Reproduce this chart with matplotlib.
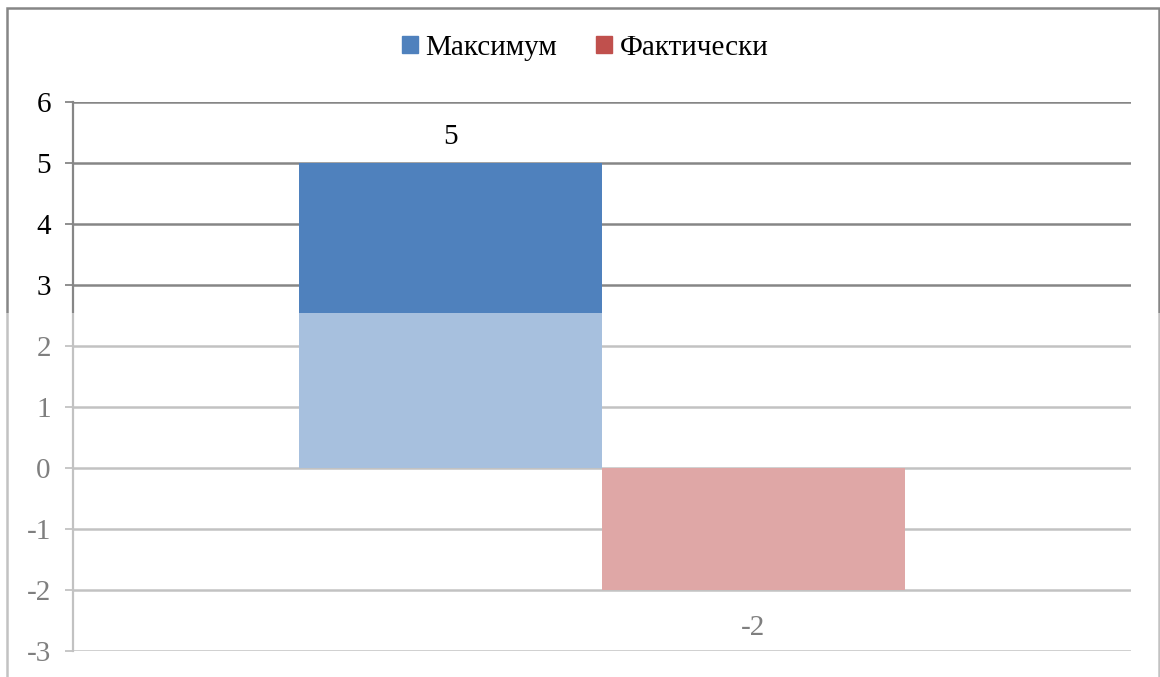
import matplotlib
matplotlib.use("Agg")
import matplotlib.pyplot as plt
from matplotlib.patches import Rectangle, Patch

categories = [""]
series_names = ["Максимум", "Фактически"]
maximum = [5]
actual = [-2]
yticks = [-3, -2, -1, 0, 1, 2, 3, 4, 5, 6]

blue = "#4F81BD"
red = "#C0504D"
grid_c = "#868686"

plt.rcParams['font.family'] = ['Liberation Serif', 'DejaVu Serif']
FS = 21

fig = plt.figure(figsize=(11.6, 6.77), dpi=100)
ax = fig.add_axes([73/1160, 1-651/677, (1131-73)/1160, (651-102)/677])

w = 303/1058
x = [0]
b1 = ax.bar([xi - w/2 for xi in x], maximum, width=w, color=blue, zorder=3)
b2 = ax.bar([xi + w/2 for xi in x], actual, width=w, color=red, zorder=3)

for rect, v in zip(b1, maximum):
    ax.annotate(str(v), (rect.get_x() + rect.get_width()/2, v), xytext=(0, 18.5),
                textcoords='offset points', ha='center', va='center', fontsize=FS, color='black')
for rect, v in zip(b2, actual):
    ax.annotate(str(v), (rect.get_x() + rect.get_width()/2, v), xytext=(0, -27.5),
                textcoords='offset points', ha='center', va='center', fontsize=FS, color='black')

ax.set_xlim(-0.5, 0.5)
ax.set_ylim(min(yticks), max(yticks))
ax.set_yticks(yticks)
ax.set_yticklabels([str(t) for t in yticks], fontsize=FS)
ax.set_xticks([])
ax.yaxis.grid(True, color=grid_c, lw=1.8, zorder=0)
ax.set_axisbelow(True)
for s in ['top', 'right', 'bottom']:
    ax.spines[s].set_visible(False)
ax.spines['left'].set_color(grid_c)
ax.spines['left'].set_linewidth(1.6)
ax.tick_params(axis='y', length=6, width=1.3, color=grid_c, pad=10, labelcolor='black')

handles = [Patch(color=blue), Patch(color=red)]
fig.legend(handles, series_names, loc='center', bbox_to_anchor=(585/1160, 1-48/677),
           ncol=2, frameon=False, fontsize=FS, handlelength=0.55, handleheight=0.55,
           handletextpad=0.25, columnspacing=1.35)

border = Rectangle((7/1160, -0.02), (1159-7)/1160, 1-8/677+0.02, transform=fig.transFigure,
                   fill=False, edgecolor=grid_c, lw=1.8, zorder=5)
fig.add_artist(border)

overlay = Rectangle((0, 0), 1, 1-313/677, transform=fig.transFigure,
                    facecolor='white', edgecolor='none', alpha=0.5, zorder=10)
fig.add_artist(overlay)

fig.savefig("out.png", dpi=100)
